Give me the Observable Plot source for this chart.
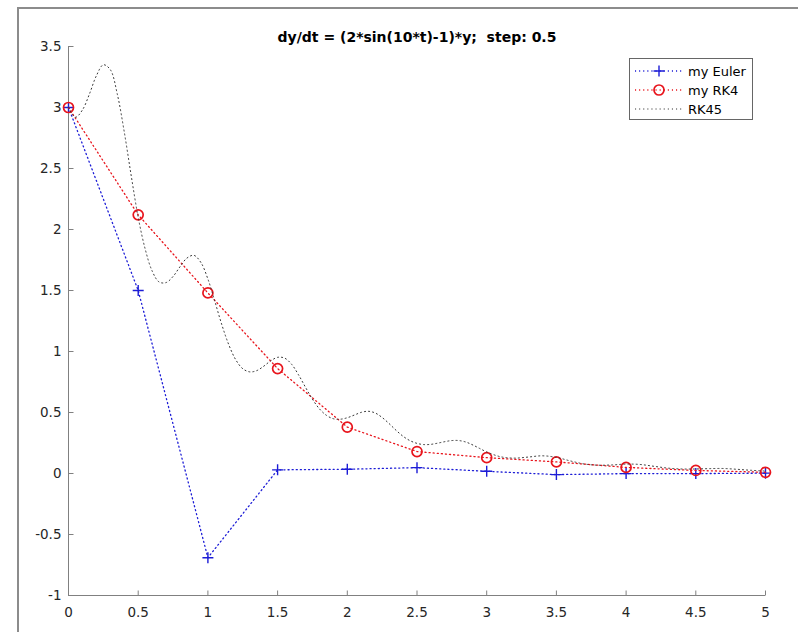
<!DOCTYPE html>
<html>
<head>
<meta charset="utf-8">
<script src="https://cdn.jsdelivr.net/npm/d3@7"></script>
<script src="https://cdn.jsdelivr.net/npm/@observablehq/plot@0.6"></script>
<style>
  html, body { margin: 0; padding: 0; background: #fff; }
  #fig { position: relative; width: 798px; height: 632px; overflow: hidden; background: #fff; }
  #fig svg text { white-space: pre; }
  .edge { position: absolute; background: #8c8c8c; }
  #legend { position: absolute; left: 629px; top: 58px; }
</style>
</head>
<body>
<div id="fig"></div>
<script>
// Solver outputs on the fixed grid (step 0.5)
const tSteps = [0, 0.5, 1, 1.5, 2, 2.5, 3, 3.5, 4, 4.5, 5];
const eulerY = [3, 1.5, -0.69, 0.03, 0.035, 0.048, 0.018, -0.009, -0.001, -0.001, 0.003];
const rk4Y   = [3, 2.12, 1.48, 0.86, 0.38, 0.18, 0.13, 0.095, 0.05, 0.025, 0.01];

// Adaptive RK45 reference solution
const rk45T = [0, 0.05, 0.1, 0.15, 0.2, 0.25, 0.3, 0.35, 0.4, 0.45, 0.5, 0.55, 0.6, 0.65, 0.7, 0.75,
  0.8, 0.85, 0.9, 0.95, 1, 1.05, 1.1, 1.15, 1.2, 1.25, 1.3, 1.35, 1.4, 1.45, 1.5, 1.55, 1.6, 1.65,
  1.7, 1.75, 1.8, 1.85, 1.9, 1.95, 2, 2.05, 2.1, 2.15, 2.2, 2.25, 2.3, 2.35, 2.4, 2.45, 2.5, 2.55,
  2.6, 2.65, 2.7, 2.75, 2.8, 2.85, 2.9, 2.95, 3, 3.1, 3.2, 3.3, 3.4, 3.5, 3.6, 3.7, 3.8, 3.9, 4,
  4.1, 4.2, 4.3, 4.4, 4.5, 4.6, 4.7, 4.8, 4.9, 5];
const rk45Y = [3, 2.92, 2.98, 3.11, 3.26, 3.35, 3.31, 3.11, 2.8, 2.44, 2.1, 1.84, 1.66, 1.57, 1.565, 1.615,
  1.695, 1.766, 1.788, 1.729, 1.594, 1.41, 1.219, 1.055, 0.932, 0.859, 0.833, 0.843, 0.879, 0.923, 0.952, 0.946, 0.896, 0.809,
  0.707, 0.609, 0.53, 0.477, 0.449, 0.445, 0.457, 0.479, 0.501, 0.51, 0.496, 0.459, 0.409, 0.354, 0.305, 0.269, 0.247, 0.237,
  0.239, 0.249, 0.261, 0.27, 0.27, 0.258, 0.234, 0.205, 0.177, 0.137, 0.126, 0.135, 0.145, 0.132, 0.103, 0.078, 0.068, 0.07, 0.077,
  0.074, 0.059, 0.044, 0.037, 0.037, 0.04, 0.041, 0.034, 0.026, 0.02];

const xTicks = [0, 0.5, 1, 1.5, 2, 2.5, 3, 3.5, 4, 4.5, 5];
const yTicks = [-1, -0.5, 0, 0.5, 1, 1.5, 2, 2.5, 3, 3.5];
const titleText = "dy/dt = (2*sin(10*t)-1)*y;  step: 0.5";
const seriesNames = ["my Euler", "my RK4", "RK45"];

const blue = "#1c1cd6";
const red = "#e8141c";
const black = "#333333";
const axisColor = "#808080";
const textColor = "#262626";
const font = "DejaVu Sans, sans-serif";
const dotted = "1.1,3";

const euler = tSteps.map((t, i) => ({t, y: eulerY[i]}));
const rk4 = tSteps.map((t, i) => ({t, y: rk4Y[i]}));
const rk45 = rk45T.map((t, i) => ({t, y: rk45Y[i]}));

// thin "+" marker and inward tick marks as custom symbols
const plusSymbol = {draw(ctx) { const r = 5.5; ctx.moveTo(-r, 0); ctx.lineTo(r, 0); ctx.moveTo(0, -r); ctx.lineTo(0, r); }};
const tickUp = {draw(ctx) { ctx.moveTo(0, 0); ctx.lineTo(0, -5); }};
const tickRight = {draw(ctx) { ctx.moveTo(0, 0); ctx.lineTo(5, 0); }};

const chart = Plot.plot({
  width: 798,
  height: 632,
  marginLeft: 68,
  marginRight: 33,
  marginTop: 46,
  marginBottom: 37,
  style: {fontFamily: font, background: "transparent", overflow: "visible"},
  x: {domain: [0, 5], axis: null},
  y: {domain: [-1, 3.5], axis: null},
  marks: [
    // tick labels
    Plot.text(xTicks, {x: d => d, y: -1, text: d => String(d), dy: 17, fontSize: 13.5, fill: textColor}),
    Plot.text(yTicks, {x: 0, y: d => d, text: d => String(d), dx: -7, textAnchor: "end", fontSize: 13.5, fill: textColor}),
    // axis lines and inward ticks
    Plot.ruleY([-1], {stroke: axisColor, strokeWidth: 1}),
    Plot.ruleX([0], {stroke: axisColor, strokeWidth: 1}),
    Plot.dot(xTicks, {x: d => d, y: -1, symbol: tickUp, stroke: axisColor, fill: "none", strokeWidth: 1}),
    Plot.dot(yTicks, {x: 0, y: d => d, symbol: tickRight, stroke: axisColor, fill: "none", strokeWidth: 1}),
    // Euler
    Plot.line(euler, {x: "t", y: "y", stroke: blue, strokeWidth: 1.3, strokeDasharray: dotted}),
    Plot.dot(euler, {x: "t", y: "y", symbol: plusSymbol, stroke: blue, fill: "none", strokeWidth: 1.4}),
    // RK4
    Plot.line(rk4, {x: "t", y: "y", stroke: red, strokeWidth: 1.3, strokeDasharray: dotted}),
    Plot.dot(rk4, {x: "t", y: "y", r: 5, stroke: red, fill: "none", strokeWidth: 1.7}),
    // RK45
    Plot.line(rk45, {x: "t", y: "y", curve: "catmull-rom", stroke: black, strokeWidth: 1, strokeDasharray: dotted}),
    Plot.text([titleText], {frameAnchor: "top", dy: -14, fontSize: 14, fontWeight: "bold", fill: "#000"})
  ]
});

const fig = document.getElementById("fig");
fig.appendChild(chart);

// figure window edges
const edgeLeft = document.createElement("div");
edgeLeft.className = "edge";
Object.assign(edgeLeft.style, {left: "17px", top: "7px", width: "2px", height: "640px"});
fig.appendChild(edgeLeft);
const edgeTop = document.createElement("div");
edgeTop.className = "edge";
Object.assign(edgeTop.style, {left: "17px", top: "7px", width: "800px", height: "2px"});
fig.appendChild(edgeTop);

// legend
const legendRows = [
  {name: seriesNames[0], color: blue, marker: "plus", width: 1.3},
  {name: seriesNames[1], color: red, marker: "circle", width: 1.3},
  {name: seriesNames[2], color: black, marker: null, width: 1}
];
const lg = d3.select(fig).append("svg")
  .attr("id", "legend")
  .attr("width", 124)
  .attr("height", 62)
  .style("font-family", font);
lg.append("rect").attr("x", 0.5).attr("y", 0.5).attr("width", 123).attr("height", 61)
  .attr("fill", "#fff").attr("stroke", "#666").attr("stroke-width", 1);
legendRows.forEach((row, i) => {
  const cy = 13 + i * 19;
  const g = lg.append("g").attr("transform", `translate(0,${cy})`);
  g.append("line").attr("x1", 6).attr("x2", 54).attr("y1", 0).attr("y2", 0)
    .attr("stroke", row.color).attr("stroke-width", row.width).attr("stroke-dasharray", dotted);
  if (row.marker === "plus") {
    g.append("path").attr("d", "M24.5,0H35.5M30,-5.5V5.5").attr("stroke", row.color).attr("stroke-width", 1.4).attr("fill", "none");
  } else if (row.marker === "circle") {
    g.append("circle").attr("cx", 30).attr("cy", 0).attr("r", 5).attr("stroke", row.color).attr("stroke-width", 1.7).attr("fill", "none");
  }
  g.append("text").attr("x", 59).attr("y", 0).attr("dy", "0.35em")
    .attr("font-size", 13).attr("fill", "#000").text(row.name);
});
</script>
</body>
</html>
